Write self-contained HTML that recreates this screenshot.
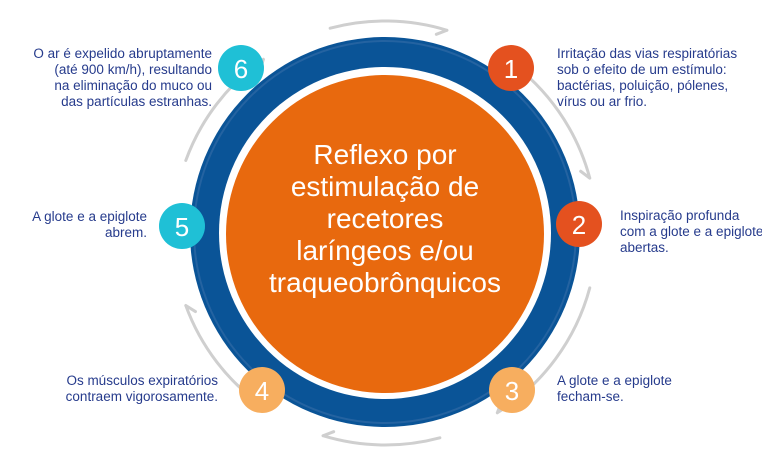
<!DOCTYPE html>
<html><head><meta charset="utf-8"><style>
body{margin:0;width:762px;height:470px;background:#fff;overflow:hidden;position:relative;font-family:"Liberation Sans",Arial,sans-serif}
.t{position:absolute;font-size:13.5px;line-height:16px;color:#263b8c;white-space:nowrap}
.r{text-align:right}
</style></head><body>
<svg width="762" height="470" style="position:absolute;left:0;top:0">
<g id="arr" fill="none" stroke="#cfcfcf" stroke-width="3" stroke-linecap="round"></g>
<circle cx="385" cy="232" r="195" fill="#0a5497"/>
<circle cx="385" cy="232" r="191" fill="none" stroke="#3d72ab" stroke-width="2" opacity="0.5"/>
<circle cx="385" cy="233" r="166" fill="#fff"/>
<circle cx="385" cy="234" r="159" fill="#e8690e"/>
<g font-family="Liberation Sans, sans-serif" font-size="28" fill="#fff" text-anchor="middle">
<text x="385" y="164">Reflexo por</text>
<text x="385" y="196">estimulação de</text>
<text x="385" y="228">recetores</text>
<text x="385" y="260">laríngeos e/ou</text>
<text x="385" y="292">traqueobrônquicos</text>
</g>
<g font-family="Liberation Sans, sans-serif" font-size="26" fill="#fff" text-anchor="middle">
<circle cx="241" cy="68" r="23" fill="#1fc0d6"/><text x="241" y="78">6</text>
<circle cx="511" cy="68" r="23" fill="#e4511f"/><text x="511" y="78">1</text>
<circle cx="579" cy="224" r="23" fill="#e4511f"/><text x="579" y="234">2</text>
<circle cx="182" cy="226" r="23" fill="#1fc0d6"/><text x="182" y="236">5</text>
<circle cx="262" cy="390" r="23" fill="#f7ae5f"/><text x="262" y="400">4</text>
<circle cx="512" cy="390" r="23" fill="#f7ae5f"/><text x="512" y="400">3</text>
</g>
</svg>
<div class="t r" style="right:550px;top:46px">O ar é expelido abruptamente<br>(até 900 km/h), resultando<br>na eliminação do muco ou<br>das partículas estranhas.</div>
<div class="t" style="left:557px;top:46px">Irritação das vias respiratórias<br>sob o efeito de um estímulo:<br>bactérias, poluição, pólenes,<br>vírus ou ar frio.</div>
<div class="t" style="left:620px;top:208px">Inspiração profunda<br>com a glote e a epiglote<br>abertas.</div>
<div class="t r" style="right:615px;top:209px">A glote e a epiglote<br>abrem.</div>
<div class="t r" style="right:544px;top:373px">Os músculos expiratórios<br>contraem vigorosamente.</div>
<div class="t" style="left:557px;top:373px">A glote e a epiglote<br>fecham-se.</div>
<script>
var g=document.getElementById('arr'),cx=385,cy=233,R=212;
function p(a){a=a*Math.PI/180;return[cx+R*Math.sin(a),cy-R*Math.cos(a)];}
[[-15,17],[35,75],[105,148],[165,197],[215,250],[290,325]].forEach(function(s){
var a=p(s[0]),b=p(s[1]);
var d='M'+a[0]+' '+a[1]+' A'+R+' '+R+' 0 0 1 '+b[0]+' '+b[1];
var e=s[1]*Math.PI/180,tx=Math.cos(e),ty=Math.sin(e);
var nx=Math.sin(e),ny=-Math.cos(e);
var q1=[b[0]-9*tx-7*nx,b[1]-9*ty-7*ny];
d+=' M'+q1[0]+' '+q1[1]+' L'+b[0]+' '+b[1];
var el=document.createElementNS('http://www.w3.org/2000/svg','path');el.setAttribute('d',d);g.appendChild(el);
});
</script>
</body></html>
